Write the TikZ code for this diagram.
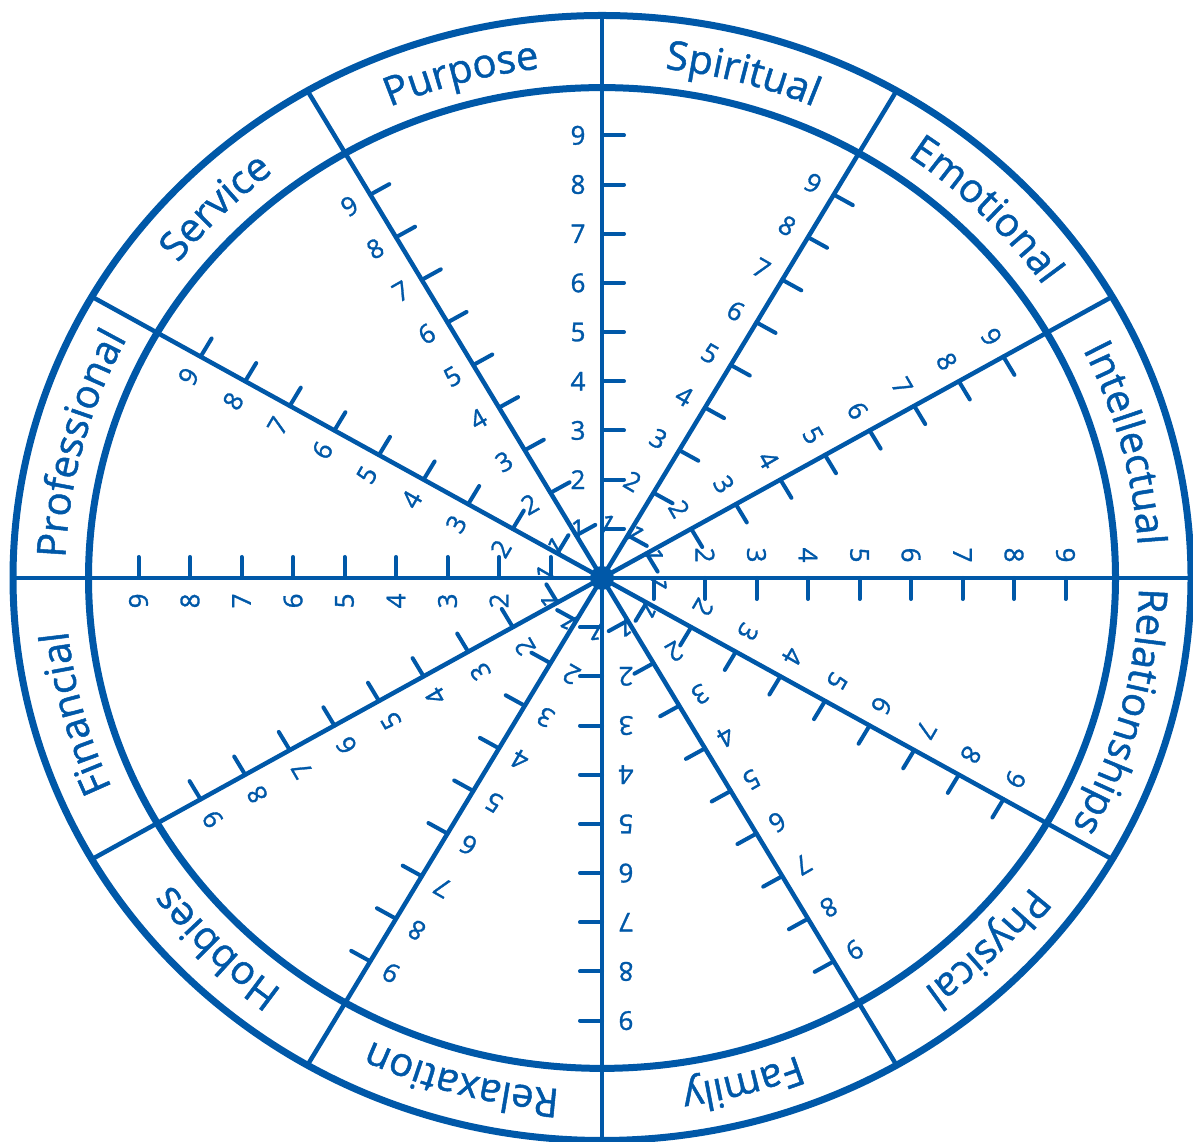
\documentclass[tikz,border=0pt]{standalone}
\usepackage{fontspec}
\setmainfont{Open Sans}
\newfontfamily\wfont{Open Sans}[FakeBold=1.2]
\usetikzlibrary{decorations.text}
\definecolor{wheelblue}{RGB}{0,88,168}
\newcommand\wlabelfont{\wfont\fontsize{40}{40}\selectfont}
\newcommand\wlabel[2]{%
  \path[decorate, decoration={text along path, text align=center, text color=wheelblue,
      text={|\wlabelfont|#2}}]
    (#1+15:537) arc[start angle=#1+15, end angle=#1-15, radius=537];}
\begin{document}
\begin{tikzpicture}[
  ring/.style={draw=wheelblue, line width=7pt},
  spoke/.style={draw=wheelblue, line width=4.5pt},
  tickmark/.style={draw=wheelblue, line width=4pt, line cap=round},
  num/.style={text=wheelblue, font=\wfont\fontsize{26}{26}\selectfont, inner sep=0pt},
]
\useasboundingbox (0pt,0pt) rectangle (1193pt,1142pt);
\begin{scope}[shift={(602pt,564pt)}, x=1pt, y=0.955pt]
  \draw[ring] (0,0) circle[radius=589];
  \draw[ring] (0,0) circle[radius=513.5];
  \foreach \a in {0,30,...,330} {
    \draw[spoke] (0,0) -- (\a:589);
    \foreach \k in {1,...,9} {
      \draw[tickmark] (\a:51.5*\k) -- ++(\a-90:22);
      \path (\a:51.5*\k) ++(\a+90:24) node[num, rotate=\a-90] (n\a-\k) {\k};
    }
  }
  \fill[wheelblue] (0,0) circle[radius=12pt];
  \wlabel{75}{Spiritual}
  \wlabel{45}{Emotional}
  \wlabel{15}{Intellectual}
  \wlabel{-15}{Relationships}
  \wlabel{-45}{Physical}
  \wlabel{-75}{Family}
  \wlabel{-105}{Relaxation}
  \wlabel{-135}{Hobbies}
  \wlabel{-165}{Financial}
  \wlabel{165}{Professional}
  \wlabel{135}{Service}
  \wlabel{105}{Purpose}
\end{scope}
\end{tikzpicture}
\end{document}
